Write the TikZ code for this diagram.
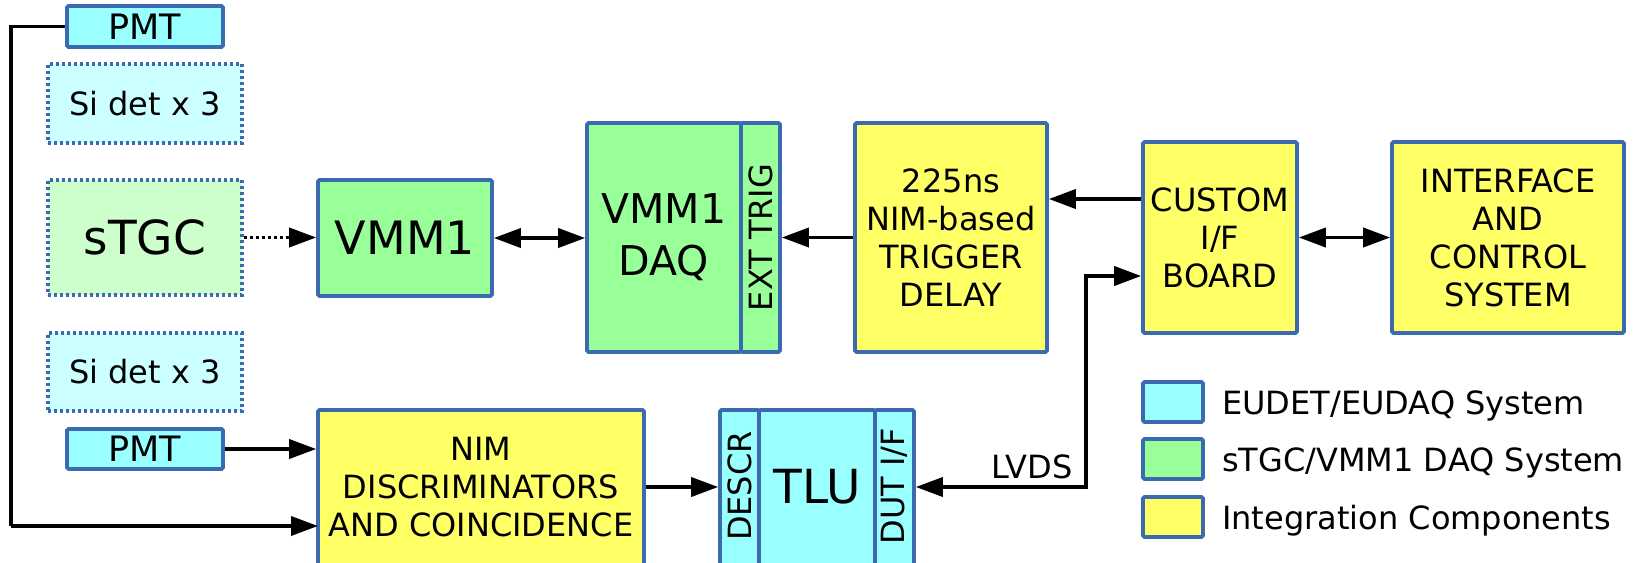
\documentclass[tikz,border=0pt]{standalone}
\usepackage{fontspec}
\setmainfont{DejaVu Sans}
\usetikzlibrary{arrows.meta,calc}
\definecolor{bord}{RGB}{60,106,176}
\definecolor{cyanf}{HTML}{99FFFF}
\definecolor{cyanl}{HTML}{CCFFFF}
\definecolor{greenf}{HTML}{99FF99}
\definecolor{greenl}{HTML}{CCFFCC}
\definecolor{yellowf}{HTML}{FFFF66}
\tikzset{
  box/.style={draw=bord, line width=3.6pt, rounded corners=1.5pt, inner sep=0pt, anchor=center},
  dotbox/.style={box, line width=3.2pt, dash pattern=on 3pt off 3pt, rounded corners=0pt},
  txt/.style={font=\fontsize{32}{38}\selectfont, align=center, inner sep=0pt},
  bigtxt/.style={font=\fontsize{46}{52}\selectfont, align=center, inner sep=0pt},
  arr/.style={line width=3.6pt, -{Triangle[length=27pt,width=19pt]}},
  darr/.style={line width=3.6pt, {Triangle[length=27pt,width=19pt]}-{Triangle[length=27pt,width=19pt]}},
}
\begin{document}
\begin{tikzpicture}[x=1pt,y=-1pt]
\useasboundingbox (0,0) rectangle (1640,562);
\clip (0,0) rectangle (1640,562);
% left column
\node[box, fill=cyanf, minimum width=156pt, minimum height=41pt, font=\fontsize{35}{38}\selectfont] (pmt1) at (145,26.5) {PMT};
\node[dotbox, fill=cyanl, minimum width=194pt, minimum height=79pt, txt] (si1) at (145,103.5) {Si det x 3};
\node[dotbox, fill=greenl, minimum width=194pt, minimum height=115pt, font=\fontsize{47}{52}\selectfont] (stgc) at (145,237.5) {sTGC};
\node[dotbox, fill=cyanl, minimum width=194pt, minimum height=78pt, txt] (si2) at (145,372) {Si det x 3};
\node[box, fill=cyanf, minimum width=156pt, minimum height=40pt, font=\fontsize{35}{38}\selectfont] (pmt2) at (145,449) {PMT};
% VMM1
\node[box, fill=greenf, minimum width=174pt, minimum height=116pt, bigtxt] (vmm1) at (405,238) {VMM1};
% VMM1 DAQ
\node[box, fill=greenf, minimum width=154pt, minimum height=229pt, font=\fontsize{41}{52}\selectfont, align=center] (daq) at (664,237.5) {VMM1\\DAQ};
\node[box, fill=greenf, minimum width=39pt, minimum height=229pt] (ext) at (760.5,237.5) {};
\node[txt, rotate=90] (extt) at (ext.center) {EXT TRIG};
% trigger delay
\node[box, fill=yellowf, minimum width=192pt, minimum height=229pt, txt] (trig) at (951,237.5) {225ns\\NIM-based\\TRIGGER\\DELAY};
% custom
\node[box, fill=yellowf, minimum width=154pt, minimum height=191pt, txt] (cust) at (1220,237.5) {CUSTOM\\I/F\\BOARD};
% interface
\node[box, fill=yellowf, minimum width=232pt, minimum height=191pt, txt] (intf) at (1508,237.5) {INTERFACE\\AND\\CONTROL\\SYSTEM};
% NIM discriminators
\node[box, fill=yellowf, minimum width=326pt, minimum height=190pt] (nim) at (481,505) {};
\node[txt] (nimt) at (481,487) {NIM\\DISCRIMINATORS\\AND COINCIDENCE};
% TLU
\node[box, fill=cyanf, minimum width=39pt, minimum height=190pt] (descr) at (739.5,505) {};
\node[box, fill=cyanf, minimum width=116pt, minimum height=190pt] (tlu) at (817,505) {};
\node[box, fill=cyanf, minimum width=39pt, minimum height=190pt] (dut) at (894.5,505) {};
\node[txt, rotate=90] (descrt) at (739.5,486) {DESCR};
\node[font=\fontsize{47}{52}\selectfont, inner sep=0pt] (tlut) at (817,487) {TLU};
\node[txt, rotate=90] (dutt) at (894.5,486) {DUT I/F};
% legend
\node[box, fill=cyanf, minimum width=60pt, minimum height=40pt] (lg1) at (1173,402) {};
\node[box, fill=greenf, minimum width=60pt, minimum height=40pt] (lg2) at (1173,459) {};
\node[box, fill=yellowf, minimum width=60pt, minimum height=40pt] (lg3) at (1173,517) {};
\node[txt, anchor=base west] (lt1) at (1222,414) {EUDET/EUDAQ System};
\node[txt, anchor=base west] (lt2) at (1222,471) {sTGC/VMM1 DAQ System};
\node[txt, anchor=base west] (lt3) at (1222,529) {Integration Components};
% connectors
\coordinate (lft) at (11,26.5);
\coordinate (lfb) at (11,526);
\coordinate (nimb) at (318,526);
\coordinate (lvdsc) at (1086,487);
\coordinate (lvdst) at (1086,276);
\draw[line width=3.6pt] (pmt1.west) -- (lft) -- (lfb);
\draw[arr] (lfb) -- (nimb);
\draw[arr] (pmt2.east) -- (pmt2.east -| nim.west);
\draw[arr, dash pattern=on 3pt off 3pt] (stgc.east) -- (stgc.east -| vmm1.west);
\draw[darr] (vmm1.east) -- (vmm1.east -| daq.west);
\draw[arr] (trig.west) -- (trig.west -| ext.east);
\draw[arr] (cust.west |- 0,199) -- (trig.east |- 0,199);
\draw[darr] (cust.east) -- (cust.east -| intf.west);
\draw[arr] (nim.east |- 0,487) -- (descr.west |- 0,487);
\draw[darr] (dut.east |- lvdsc) -- (lvdsc) -- (lvdst) -- (cust.west |- lvdst);
\node[txt, anchor=base east] (lvds) at (1073,478) {LVDS};
\end{tikzpicture}
\end{document}
